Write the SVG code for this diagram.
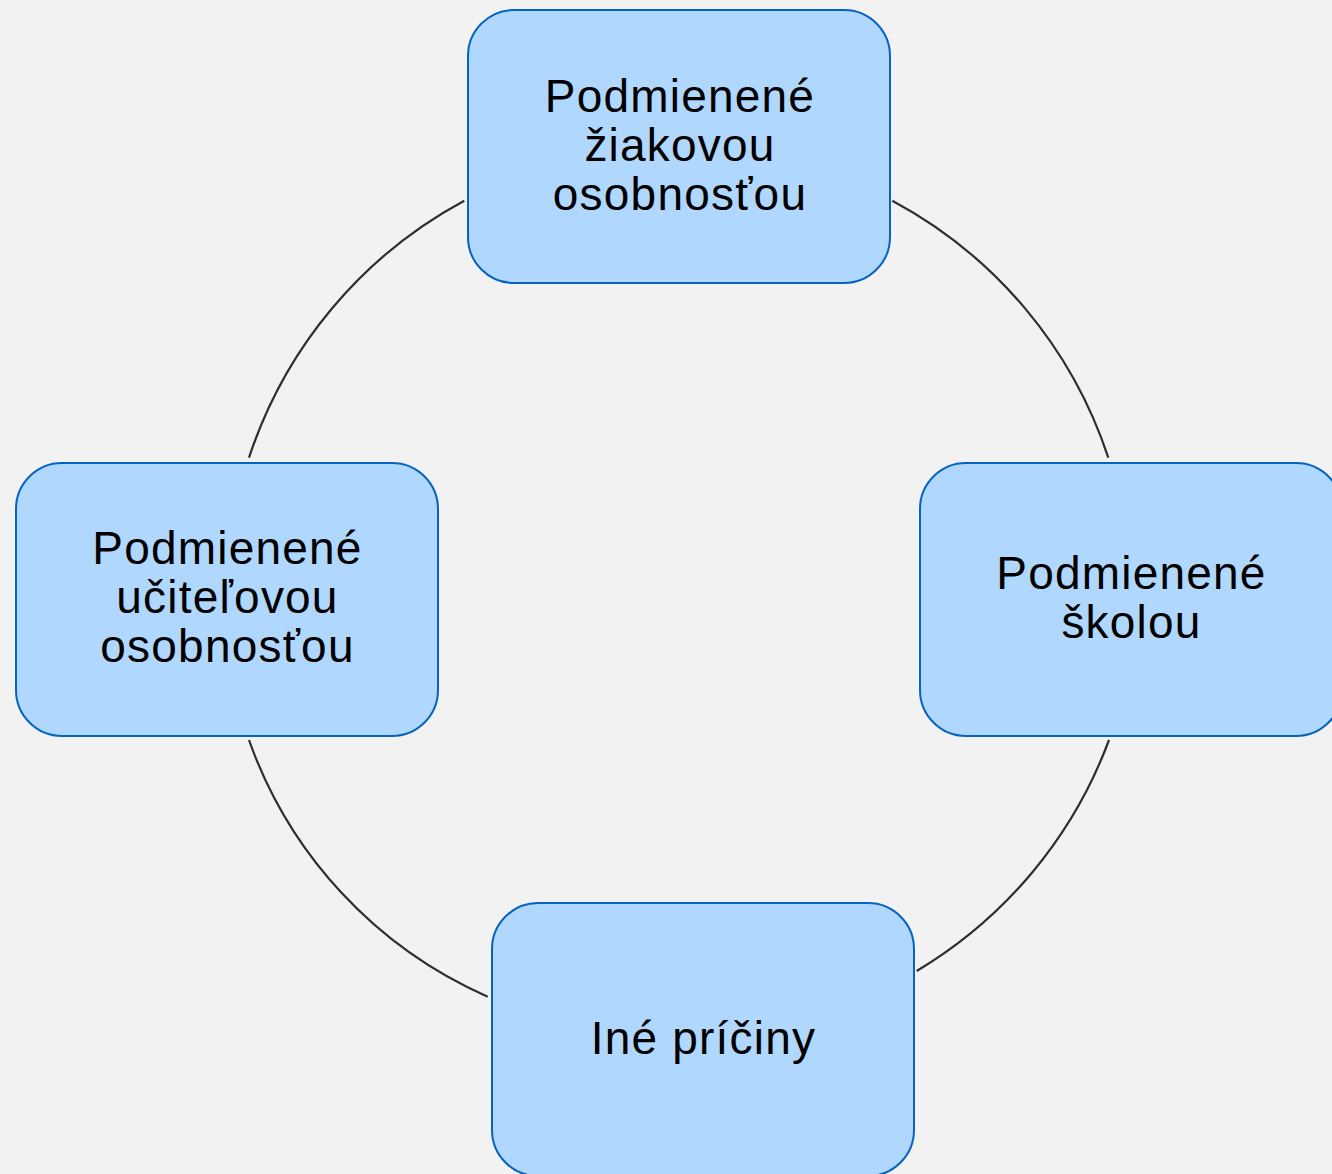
<svg xmlns="http://www.w3.org/2000/svg" width="1332" height="1174" viewBox="0 0 1332 1174">
<style>
.box{fill:#b0d7fd;stroke:#0563c1;stroke-width:2}
.arc{fill:none;stroke:#2e2e2e;stroke-width:2.2}
.t{font-family:"Liberation Sans",Arial,sans-serif;font-size:46px;letter-spacing:1.2px;fill:#000;text-anchor:middle}
</style>
<rect x="0" y="0" width="1332" height="1174" fill="#f2f2f2"/>
<g id="connectors">
<path class="arc" d="M 892.3 200.7 A 452 452 0 0 1 1108.3 457.7"/>
<path class="arc" d="M 1109 740 A 452 452 0 0 1 916.7 971"/>
<path class="arc" d="M 487.7 996.7 A 441 441 0 0 1 249 740"/>
<path class="arc" d="M 249 457.7 A 452 452 0 0 1 464.3 200.7"/>
</g>
<g id="node-top">
<rect class="box" x="468" y="10" width="422" height="273" rx="46"/>
<text class="t" x="680" y="112">Podmienené</text>
<text class="t" x="680" y="161">žiakovou</text>
<text class="t" x="680" y="210">osobnosťou</text>
</g>
<g id="node-right">
<rect class="box" x="920" y="463" width="422" height="273" rx="46"/>
<text class="t" x="1131.5" y="589">Podmienené</text>
<text class="t" x="1131.5" y="638">školou</text>
</g>
<g id="node-bottom">
<rect class="box" x="492" y="903" width="422" height="273" rx="46"/>
<text class="t" x="703.5" y="1054">Iné príčiny</text>
</g>
<g id="node-left">
<rect class="box" x="16" y="463" width="422" height="273" rx="46"/>
<text class="t" x="227.5" y="564">Podmienené</text>
<text class="t" x="227.5" y="613">učiteľovou</text>
<text class="t" x="227.5" y="662">osobnosťou</text>
</g>
</svg>
